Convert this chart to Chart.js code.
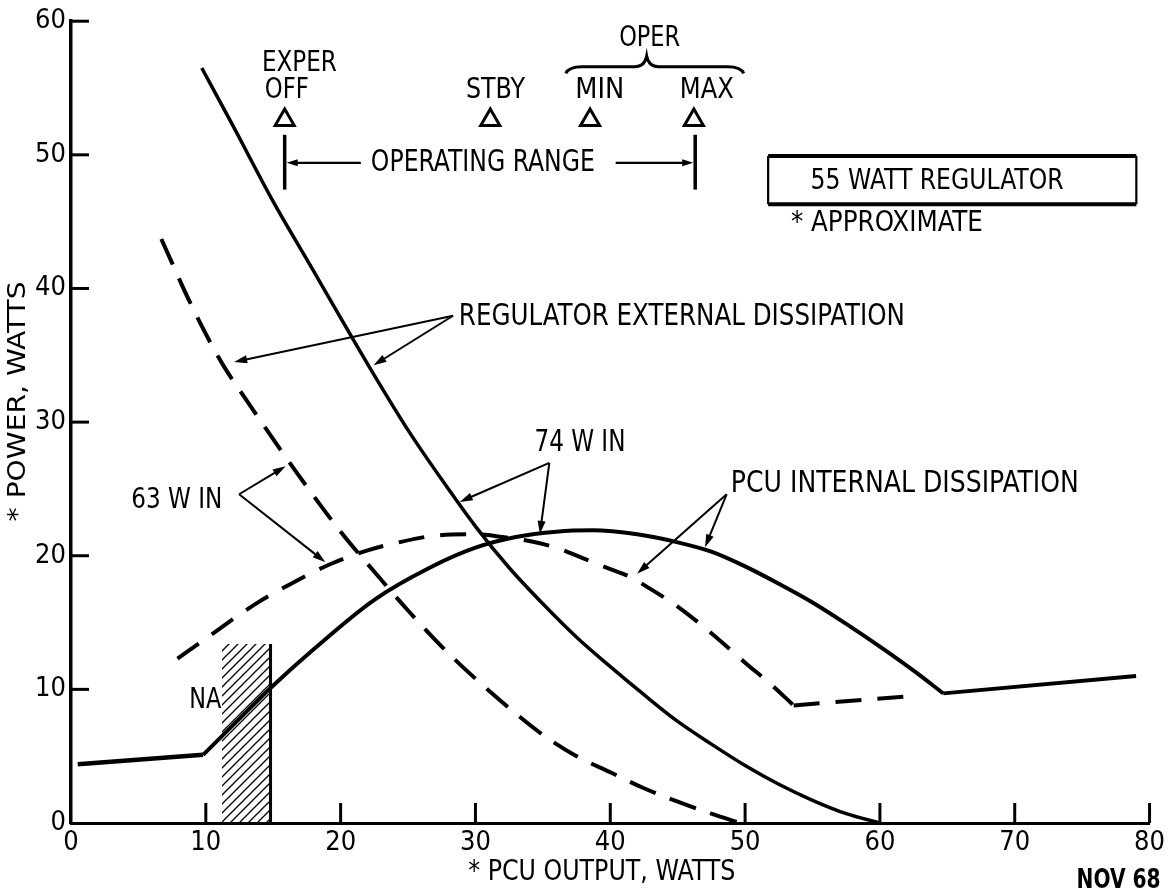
<!DOCTYPE html>
<html><head><meta charset="utf-8">
<script src="https://cdn.jsdelivr.net/npm/chart.js@4.4.1/dist/chart.umd.min.js"></script>
<style>html,body{margin:0;padding:0;background:#fff}canvas{display:block}</style>
</head><body>
<canvas id="c" width="1169" height="891"></canvas>
<script>
// ---------- DATA ----------
const xTickValues = [0, 10, 20, 30, 40, 50, 60, 70, 80];
const yTickValues = [0, 10, 20, 30, 40, 50, 60];

// Regulator external dissipation, 74 W in (solid)
const reg74X = [9.7, 12, 15, 18, 20, 22.5, 25, 27.5, 30, 32.5, 35, 37.5, 40, 42.5, 45, 47.5, 50, 52.5, 55, 57.5, 60];
const reg74Y = [56.5, 52.2, 46.5, 41.3, 37.8, 33.5, 29.4, 25.7, 22.2, 19.1, 16.4, 13.9, 11.7, 9.6, 7.6, 5.9, 4.3, 2.9, 1.7, 0.7, 0];
// Regulator external dissipation, 63 W in (dashed)
const reg63X = [6.7, 9, 11.2, 12.5, 14.6, 16.9, 20, 22.5, 25, 27.5, 30, 32.5, 35, 37.5, 40, 42.5, 45, 47.5, 49.6];
const reg63Y = [43.7, 38.6, 34.4, 32.4, 29.3, 26.0, 21.8, 18.8, 15.9, 13.2, 10.8, 8.6, 6.6, 5.0, 3.8, 2.6, 1.6, 0.7, 0];
// PCU internal dissipation, 74 W in (solid) : low segment, curve, high segment
const pcu74LowX = [0.5, 9.8];
const pcu74LowY = [4.4, 5.1];
const pcu74X = [9.8, 12.3, 14.8, 18, 22.5, 26.6, 30, 33, 36, 38.7, 42, 45, 47.5, 50, 52.5, 55, 57.5, 60, 62.5, 64.7];
const pcu74Y = [5.1, 7.6, 10.1, 13.0, 16.7, 19.1, 20.6, 21.4, 21.8, 21.9, 21.6, 21.0, 20.3, 19.2, 17.9, 16.5, 14.9, 13.2, 11.4, 9.7];
const pcu74HighX = [64.7, 79];
const pcu74HighY = [9.7, 11.0];
// PCU internal dissipation, 63 W in (dashed)
const pcu63X = [7.9, 10, 13.7, 16.5, 19.3, 22, 24.3, 27, 30, 32, 34, 36, 38, 40, 41.5, 43, 45, 47.5, 50, 52, 53.6];
const pcu63Y = [12.3, 13.8, 16.4, 18.0, 19.4, 20.4, 21.0, 21.5, 21.6, 21.4, 21.1, 20.6, 19.8, 19.0, 18.4, 17.5, 16.2, 14.2, 12.0, 10.3, 8.8];
const pcu63TailX = [53.6, 62.4];
const pcu63TailY = [8.8, 9.5];
// NA hatched region
const naX = [11.2, 14.8];
const naTop = 13.4;
// Operating markers (triangles)
const markerNames = ["EXPER OFF", "STBY", "MIN", "MAX"];
const markerX = [15.85, 31.1, 38.5, 46.2];
const markerY = [52.6, 52.6, 52.6, 52.6];
// Operating range
const rangeX = [15.85, 46.3];
const rangeBarY = [47.4, 51.5];
const rangeArrowY = 49.4;
const rangeArrowStart = [21.5, 40.4];
// Pointer arrows (from label to curve)
const pointerFrom = [[28.34, 37.96], [28.34, 37.96], [35.48, 26.95], [35.48, 26.95], [12.47, 24.6], [12.47, 24.6], [48.63, 24.6], [48.63, 24.6]];
const pointerTo = [[12.1, 34.5], [22.44, 34.25], [28.83, 24.03], [34.78, 21.63], [15.92, 26.7], [18.87, 19.52], [41.99, 18.66], [47.03, 20.64]];
// Brace over OPER
const braceX = [36.7, 42.7, 49.9];
const braceY = [56.1, 56.6, 57.4];
// Regulator box
const boxX = [51.71, 79.02];
const boxY = [46.3, 49.91];
// Text notes (positions in data units)
const noteText = ["EXPER", "OFF", "STBY", "MIN", "MAX", "OPER", "OPERATING RANGE", "55 WATT REGULATOR", "* APPROXIMATE",
  "REGULATOR EXTERNAL DISSIPATION", "74 W IN", "63 W IN", "PCU INTERNAL DISSIPATION", "NA",
  "* PCU OUTPUT, WATTS", "* POWER, WATTS", "NOV 68"];
const noteX = [16.94, 16.01, 31.48, 39.22, 47.16, 42.92, 30.55, 64.24, 60.52, 45.31, 37.75, 7.85, 61.85, 9.96, 39.37, -3.91, 77.7];
const noteY = [56.79, 54.79, 54.83, 54.79, 54.79, 58.69, 49.41, 48.0, 44.84, 37.86, 28.43, 24.13, 25.35, 9.13, -3.71, 31.55, -4.35];

// ---------- STYLE ----------
const FONT = "'Liberation Sans Narrow','DejaVu Sans Condensed','Roboto Condensed',sans-serif";
const noteStyle = [
  {w: 75, s: 28}, {w: 44, s: 28}, {w: 59, s: 28}, {w: 49, s: 28}, {w: 54, s: 28}, {w: 61, s: 28},
  {w: 224, s: 30}, {w: 253, s: 28}, {w: 192, s: 29}, {w: 446, s: 30}, {w: 91, s: 30}, {w: 91, s: 28},
  {w: 348, s: 30}, {w: 32, s: 28}, {w: 267, s: 28}, {w: 240, s: 25, rot: -Math.PI / 2}, {w: 84, s: 26, bold: true}
];

function pts(xs, ys) { return xs.map((x, i) => ({x: x, y: ys[i]})); }

// hatch pattern
const pc = document.createElement('canvas');
pc.width = 9; pc.height = 9;
const pctx = pc.getContext('2d');
pctx.strokeStyle = '#000'; pctx.lineWidth = 1.3;
pctx.beginPath();
pctx.moveTo(-1, 10); pctx.lineTo(10, -1);
pctx.moveTo(-5, 5); pctx.lineTo(5, -5);
pctx.moveTo(4, 14); pctx.lineTo(14, 4);
pctx.stroke();
const hatch = pctx.createPattern(pc, 'repeat');

function fitText(ctx, text, cx, cy, st) {
  ctx.save();
  ctx.font = (st.bold ? 'bold ' : '') + st.s + 'px ' + FONT;
  ctx.textBaseline = 'middle';
  ctx.textAlign = 'center';
  const m = ctx.measureText(text).width;
  const sx = st.w ? st.w / m : 1;
  ctx.translate(cx, cy);
  if (st.rot) ctx.rotate(st.rot);
  ctx.scale(sx, 1);
  ctx.fillStyle = '#000';
  ctx.fillText(text, 0, 0);
  ctx.restore();
}
function arrow(ctx, x0, y0, x1, y1, head, hw) {
  const a = Math.atan2(y1 - y0, x1 - x0);
  const bx = x1 - head * Math.cos(a), by = y1 - head * Math.sin(a);
  ctx.beginPath(); ctx.moveTo(x0, y0); ctx.lineTo(bx + 2 * Math.cos(a), by + 2 * Math.sin(a)); ctx.stroke();
  ctx.beginPath();
  ctx.moveTo(x1, y1);
  ctx.lineTo(bx + hw * Math.sin(a), by - hw * Math.cos(a));
  ctx.lineTo(bx - hw * Math.sin(a), by + hw * Math.cos(a));
  ctx.closePath(); ctx.fill();
}

const annot = {
  id: 'annot',
  afterDraw(chart) {
    const ctx = chart.ctx, sx = chart.scales.x, sy = chart.scales.y;
    const X = v => sx.getPixelForValue(v), Y = v => sy.getPixelForValue(v);
    ctx.save();
    ctx.strokeStyle = '#000'; ctx.fillStyle = '#000'; ctx.lineCap = 'butt';
    // inward tick marks
    ctx.lineWidth = 3;
    yTickValues.forEach(v => { if (v === 0) return; ctx.beginPath(); ctx.moveTo(X(0), Y(v)); ctx.lineTo(X(0) + 18, Y(v)); ctx.stroke(); });
    xTickValues.forEach(v => { if (v === 0) return; ctx.beginPath(); ctx.moveTo(X(v), Y(0)); ctx.lineTo(X(v), Y(0) - 20); ctx.stroke(); });
    // operating range bars & arrows
    ctx.lineWidth = 3.5;
    rangeX.forEach(v => { ctx.beginPath(); ctx.moveTo(X(v), Y(rangeBarY[0])); ctx.lineTo(X(v), Y(rangeBarY[1])); ctx.stroke(); });
    ctx.lineWidth = 2.2;
    arrow(ctx, X(rangeArrowStart[0]), Y(rangeArrowY), X(rangeX[0]) + 2, Y(rangeArrowY), 11, 3.5);
    arrow(ctx, X(rangeArrowStart[1]), Y(rangeArrowY), X(rangeX[1]) - 2, Y(rangeArrowY), 11, 3.5);
    // pointer arrows
    ctx.lineWidth = 2;
    pointerFrom.forEach((f, i) => { const t = pointerTo[i]; arrow(ctx, X(f[0]), Y(f[1]), X(t[0]), Y(t[1]), 13, 4); });
    // brace
    ctx.lineWidth = 3;
    const l = X(braceX[0]), m = X(braceX[1]), r = X(braceX[2]);
    const ye = Y(braceY[0]), yb = Y(braceY[1]), yt = Y(braceY[2]);
    ctx.beginPath();
    ctx.moveTo(l, ye);
    ctx.quadraticCurveTo(l + 3, yb, l + 16, yb);
    ctx.lineTo(m - 12, yb);
    ctx.quadraticCurveTo(m - 2, yb, m, yt);
    ctx.quadraticCurveTo(m + 2, yb, m + 12, yb);
    ctx.lineTo(r - 16, yb);
    ctx.quadraticCurveTo(r - 3, yb, r, ye);
    ctx.stroke();
    // regulator box
    ctx.lineWidth = 4;
    ctx.beginPath();
    ctx.moveTo(X(boxX[0]), Y(boxY[1])); ctx.lineTo(X(boxX[1]), Y(boxY[1]));
    ctx.moveTo(X(boxX[0]), Y(boxY[0])); ctx.lineTo(X(boxX[1]), Y(boxY[0]));
    ctx.stroke();
    ctx.lineWidth = 2.2;
    ctx.beginPath();
    ctx.moveTo(X(boxX[0]), Y(boxY[1])); ctx.lineTo(X(boxX[0]), Y(boxY[0]));
    ctx.moveTo(X(boxX[1]), Y(boxY[1])); ctx.lineTo(X(boxX[1]), Y(boxY[0]));
    ctx.stroke();
    // texts
    noteText.forEach((t, i) => fitText(ctx, t, X(noteX[i]), Y(noteY[i]), noteStyle[i]));
    ctx.restore();
  }
};

const lineBase = {showLine: true, pointRadius: 0, borderColor: '#000', backgroundColor: '#000', fill: false};

new Chart(document.getElementById('c'), {
  type: 'scatter',
  data: {
    datasets: [
      Object.assign({}, lineBase, {label: 'Regulator 74 W in', data: pts(reg74X, reg74Y), borderWidth: 3.5, cubicInterpolationMode: 'monotone'}),
      Object.assign({}, lineBase, {label: 'Regulator 63 W in', data: pts(reg63X, reg63Y), borderWidth: 4, borderDash: [28, 15], cubicInterpolationMode: 'monotone'}),
      Object.assign({}, lineBase, {label: 'PCU 74 W in (low)', data: pts(pcu74LowX, pcu74LowY), borderWidth: 4.5, tension: 0}),
      Object.assign({}, lineBase, {label: 'PCU 74 W in', data: pts(pcu74X, pcu74Y), borderWidth: 4, cubicInterpolationMode: 'monotone'}),
      Object.assign({}, lineBase, {label: 'PCU 74 W in (high)', data: pts(pcu74HighX, pcu74HighY), borderWidth: 4, tension: 0}),
      Object.assign({}, lineBase, {label: 'PCU 63 W in', data: pts(pcu63X, pcu63Y), borderWidth: 4, borderDash: [26, 16], cubicInterpolationMode: 'monotone'}),
      Object.assign({}, lineBase, {label: 'PCU 63 W in (tail)', data: pts(pcu63TailX, pcu63TailY), borderWidth: 4, borderDash: [26, 16], tension: 0}),
      Object.assign({}, lineBase, {label: 'NA edge', data: pts([naX[1], naX[1]], [0, naTop]), borderWidth: 3, tension: 0}),
      {label: 'NA', type: 'line', data: pts(naX, [naTop, naTop]), showLine: true, pointRadius: 0, borderWidth: 0, borderColor: 'rgba(0,0,0,0)', backgroundColor: hatch, fill: 'origin', order: 10},
      {label: 'Markers', data: pts(markerX, markerY), showLine: false, pointStyle: 'triangle', pointRadius: 11, pointBorderWidth: 3, pointBorderColor: '#000', pointBackgroundColor: '#fff'}
    ]
  },
  options: {
    responsive: false,
    animation: false,
    devicePixelRatio: 1,
    layout: {padding: {top: 15, right: 14, left: 0, bottom: 0}},
    plugins: {legend: {display: false}, tooltip: {enabled: false}},
    scales: {
      x: {
        type: 'linear', min: 0, max: 80,
        afterBuildTicks: s => { s.ticks = xTickValues.map(v => ({value: v})); },
        afterFit: s => { s.height = 68; },
        grid: {display: false, drawTicks: false},
        border: {display: true, color: '#000', width: 3},
        ticks: {color: '#000', padding: 4, font: {family: FONT, size: 27}, maxRotation: 0, autoSkip: false}
      },
      y: {
        type: 'linear', min: 0, max: 60,
        afterBuildTicks: s => { s.ticks = yTickValues.map(v => ({value: v})); },
        afterFit: s => { s.width = 71; },
        grid: {display: false, drawTicks: false},
        border: {display: true, color: '#000', width: 3.5},
        ticks: {color: '#000', padding: 5, font: {family: FONT, size: 27}, autoSkip: false}
      }
    }
  },
  plugins: [annot]
});
</script>
</body></html>
